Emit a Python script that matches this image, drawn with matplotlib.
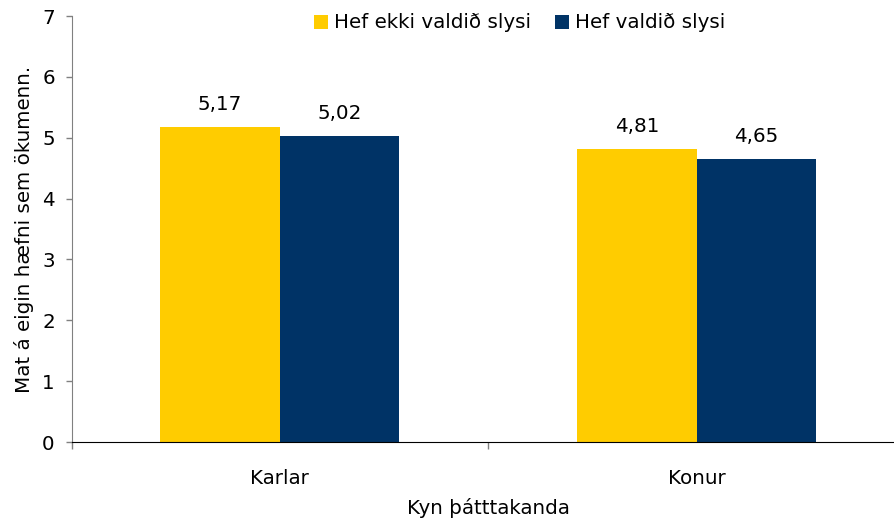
import matplotlib
matplotlib.use("Agg")
import matplotlib.pyplot as plt
import numpy as np

categories = ["Karlar", "Konur"]
series_names = ["Hef ekki valdið slysi", "Hef valdið slysi"]
not_caused = [5.17, 4.81]
caused = [5.02, 4.65]
colors = ["#FFCC00", "#003366"]

FS = 14.3
plt.rcParams['font.family'] = ['DejaVu Sans']
fig = plt.figure(figsize=(8.94, 5.20), dpi=100)
ax = fig.add_axes([71.5/894, (520-442)/520, (905-71.5)/894, (442-16)/520])

x = np.arange(len(categories))
w = 119.5/416.5
b1 = ax.bar(x - w/2, not_caused, w, color=colors[0], label=series_names[0])
b2 = ax.bar(x + w/2, caused, w, color=colors[1], label=series_names[1])
for bars, vals in ((b1, not_caused), (b2, caused)):
    for r, v in zip(bars, vals):
        ax.annotate(f"{v:.2f}".replace(".", ","), (r.get_x() + r.get_width()/2, v),
                    xytext=(0, 9.5), textcoords="offset points", ha="center", va="bottom",
                    fontsize=FS)

ax.set_xlim(-0.5, 1.5)
ax.set_ylim(0, 7)
ax.set_yticks(range(8))
ax.tick_params(axis='y', labelsize=FS, length=4.5, width=1, direction='out', color='#808080', pad=7.5)
ax.set_xticks(x)
ax.set_xticklabels(categories, fontsize=FS)
ax.tick_params(axis='x', which='major', length=0, pad=19.5)
ax.set_xticks([-0.5, 0.5, 1.5], minor=True)
ax.tick_params(axis='x', which='minor', length=5, width=1, color='#808080')
for s in ['top', 'right']:
    ax.spines[s].set_visible(False)
ax.spines['left'].set_color('#808080')
ax.spines['bottom'].set_color('black')
ax.set_xlabel("Kyn þátttakanda", fontsize=FS, labelpad=7)
ax.set_ylabel("Mat á eigin hæfni sem ökumenn.", fontsize=FS, labelpad=6)

ax.legend(loc='center', bbox_to_anchor=(519.5/894, 1 - 23/520), bbox_transform=fig.transFigure,
          ncol=2, frameon=False, fontsize=FS, handlelength=0.7, handleheight=0.7,
          handletextpad=0.3, columnspacing=1.2, borderaxespad=0, borderpad=0)

fig.savefig("out.png", dpi=100)
